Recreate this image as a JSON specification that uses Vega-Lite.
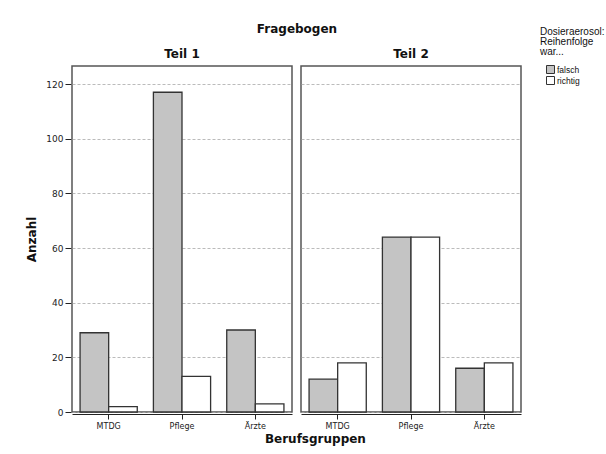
{
  "$schema": "https://vega.github.io/schema/vega-lite/v6.json",
  "autosize": {"type": "pad"},
  "padding": {"left": 25, "top": 23, "right": 0, "bottom": 5},
  "background": "white",
  "title": {"text": "Berufsgruppen", "orient": "bottom", "font": "DejaVu Sans", "fontSize": 12, "fontWeight": "bold", "color": "#111", "anchor": "middle", "offset": 4},
  "data": {"values": [
    {"teil": "Teil 1", "gruppe": "MTDG", "antwort": "falsch", "anzahl": 29},
    {"teil": "Teil 1", "gruppe": "MTDG", "antwort": "richtig", "anzahl": 2},
    {"teil": "Teil 1", "gruppe": "Pflege", "antwort": "falsch", "anzahl": 117},
    {"teil": "Teil 1", "gruppe": "Pflege", "antwort": "richtig", "anzahl": 13},
    {"teil": "Teil 1", "gruppe": "Ärzte", "antwort": "falsch", "anzahl": 30},
    {"teil": "Teil 1", "gruppe": "Ärzte", "antwort": "richtig", "anzahl": 3},
    {"teil": "Teil 2", "gruppe": "MTDG", "antwort": "falsch", "anzahl": 12},
    {"teil": "Teil 2", "gruppe": "MTDG", "antwort": "richtig", "anzahl": 18},
    {"teil": "Teil 2", "gruppe": "Pflege", "antwort": "falsch", "anzahl": 64},
    {"teil": "Teil 2", "gruppe": "Pflege", "antwort": "richtig", "anzahl": 64},
    {"teil": "Teil 2", "gruppe": "Ärzte", "antwort": "falsch", "anzahl": 16},
    {"teil": "Teil 2", "gruppe": "Ärzte", "antwort": "richtig", "anzahl": 18}
  ]},
  "facet": {
    "column": {"field": "teil", "type": "nominal", "title": "Fragebogen",
      "header": {"labelFont": "DejaVu Sans", "labelFontSize": 12, "labelFontWeight": "bold", "labelColor": "#111", "labelPadding": 4, "labelOrient": "top",
        "titleOrient": "top", "titleFont": "DejaVu Sans", "titleFontSize": 12, "titleFontWeight": "bold", "titleColor": "#111", "titlePadding": 2}}
  },
  "spacing": 7,
  "spec": {
    "width": 220,
    "height": 346,
    "mark": {"type": "bar", "stroke": "#333", "strokeWidth": 1.3},
    "encoding": {
      "x": {"field": "gruppe", "type": "nominal", "sort": ["MTDG", "Pflege", "Ärzte"], "title": null,
        "scale": {"paddingInner": 0.22, "paddingOuter": 0.11},
        "axis": {"labelAngle": 0, "labelFont": "DejaVu Sans", "labelFontSize": 8, "labelColor": "#222", "tickColor": "#222", "tickSize": 5, "domainColor": "#222", "labelPadding": 3}},
      "xOffset": {"field": "antwort", "type": "nominal", "sort": ["falsch", "richtig"]},
      "y": {"field": "anzahl", "type": "quantitative", "title": "Anzahl",
        "scale": {"domain": [0, 126.6], "nice": false},
        "axis": {"values": [0, 20, 40, 60, 80, 100, 120], "labelFont": "DejaVu Sans", "labelFontSize": 9, "labelColor": "#222", "tickColor": "#222", "tickSize": 6, "labelPadding": 2, "domain": false, "titleFont": "DejaVu Sans", "titleFontSize": 12, "titleFontWeight": "bold", "titleColor": "#111", "titlePadding": 7,
          "grid": true, "gridDash": [3, 2], "gridColor": "#aaa", "gridWidth": 0.8}},
      "fill": {"field": "antwort", "type": "nominal", "sort": ["falsch", "richtig"],
        "scale": {"domain": ["falsch", "richtig"], "range": ["#c4c4c4", "#ffffff"]},
        "legend": {"title": ["Dosieraerosol:", "Reihenfolge", "war..."], "orient": "none", "legendX": 468, "legendY": -39, "titleFont": "Liberation Sans", "titleFontSize": 10, "titleFontWeight": "normal", "titleColor": "#111", "titleLineHeight": 10, "labelFont": "Liberation Sans", "labelFontSize": 8.5, "labelColor": "#111", "symbolType": "square", "symbolSize": 64, "symbolStrokeColor": "#333", "symbolStrokeWidth": 1, "titlePadding": 8, "rowPadding": -3, "padding": 0, "labelOffset": 2, "symbolOffset": 6}}
    }
  },
  "config": {
    "view": {"stroke": "#555", "strokeWidth": 1.5},
    "font": "DejaVu Sans"
  }
}
